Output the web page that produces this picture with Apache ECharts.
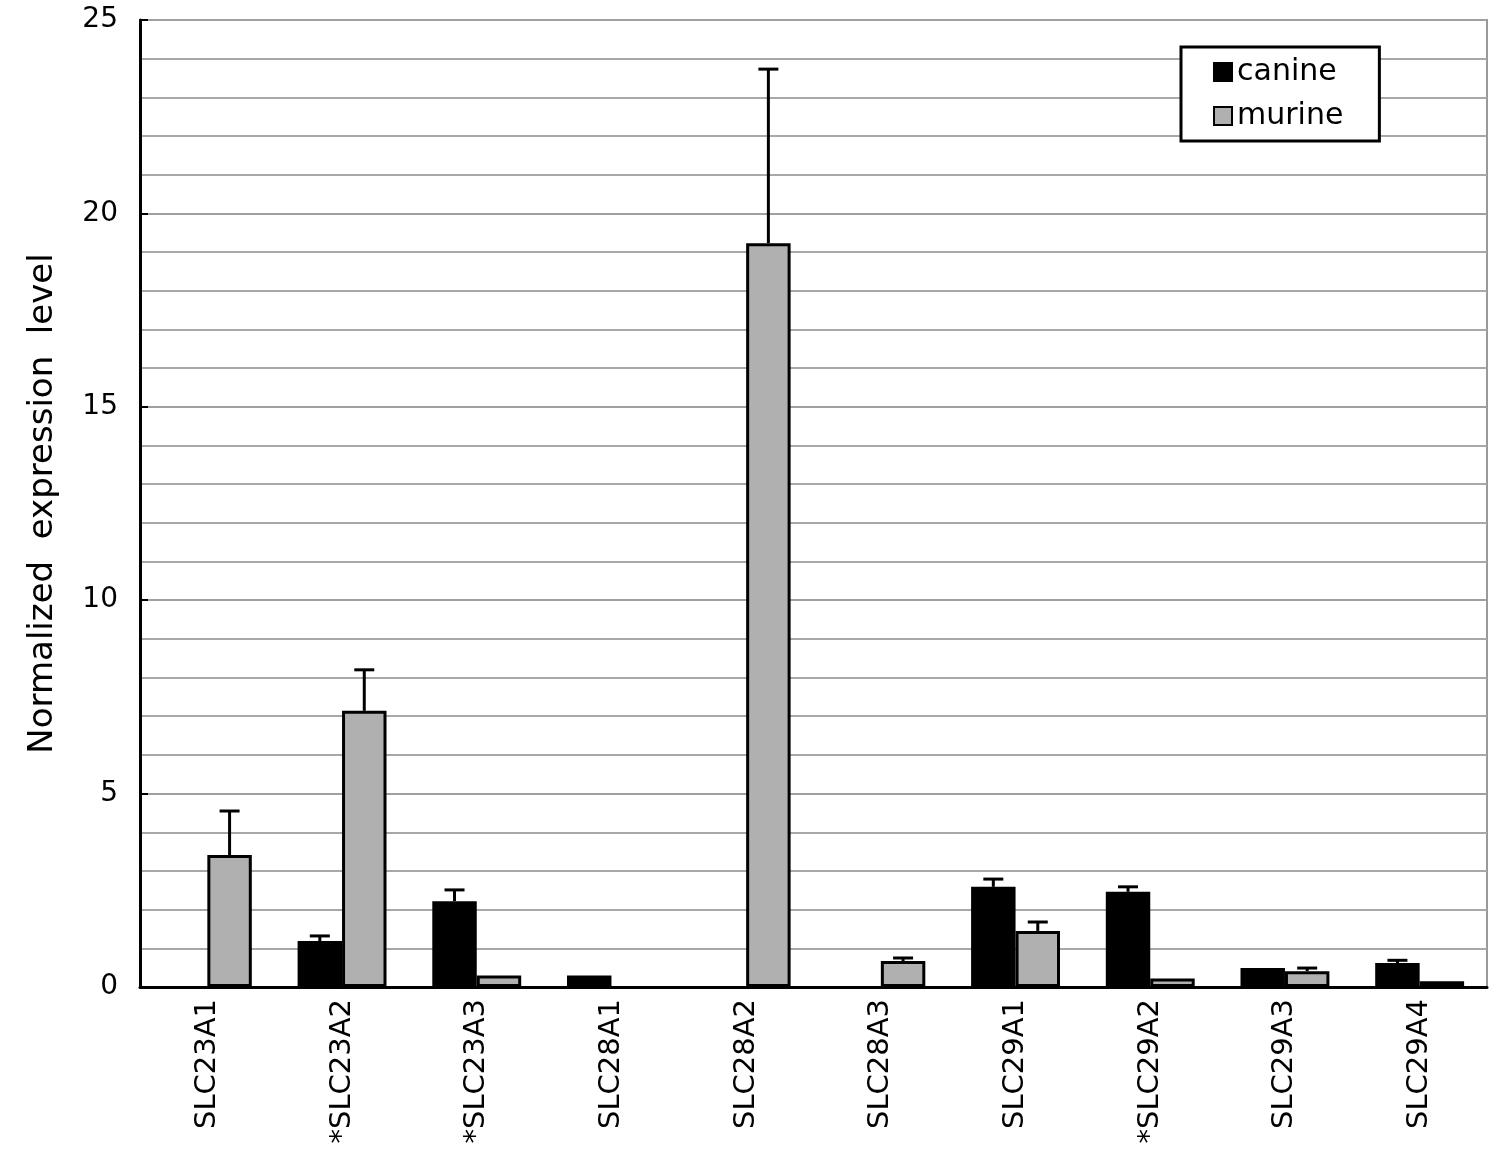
<!DOCTYPE html>
<html>
<head>
<meta charset="utf-8">
<script src="https://cdn.jsdelivr.net/npm/echarts@6/dist/echarts.min.js"></script>
<style>
	html, body { margin: 0; padding: 0; background: #fff; }
	#chart { width: 1500px; height: 1159px; }
</style>
</head>
<body>
<div id="chart"></div>
<script>
var genes = ["SLC23A1", "*SLC23A2", "*SLC23A3", "SLC28A1", "SLC28A2", "SLC28A3", "SLC29A1", "*SLC29A2", "SLC29A3", "SLC29A4"];
var canine = [0, 1.19, 2.22, 0.3, 0, 0, 2.59, 2.46, 0.49, 0.62];
var canineErr = [0, 0.13, 0.29, 0, 0, 0, 0.2, 0.13, 0, 0.07];
var murine = [3.41, 7.14, 0.3, 0, 19.23, 0.67, 1.45, 0.22, 0.41, 0.15];
var murineErr = [1.14, 1.06, 0, 0, 4.5, 0.08, 0.23, 0, 0.08, 0];
var yTicks = [0, 5, 10, 15, 20, 25];

var font = "DejaVu Sans";
var gapPct = 34;

// zero bars are not drawn in the original (no flat outline)
var barData = function (vals) {
	return vals.map(function (v) { return v === 0 ? "-" : v; });
};

// error bar drawing, side = -1 for canine, 1 for murine
var errItem = function (side) {
	return function (params, api) {
		var idx = api.value(0);
		var val = api.value(1);
		var hi = val + api.value(2);
		var band = api.size([1, 0])[0];
		var off = side * band * (1 - gapPct / 100) / 4;
		var p0 = api.coord([idx, val]);
		var p1 = api.coord([idx, hi]);
		var x = p0[0] + off;
		var st = { stroke: "#000", lineWidth: 3 };
		return {
			type: "group",
			children: [
				{ type: "line", shape: { x1: x, y1: p0[1], x2: x, y2: p1[1] }, style: st },
				{ type: "line", shape: { x1: x - 10, y1: p1[1], x2: x + 10, y2: p1[1] }, style: st }
			]
		};
	};
};

var errData = function (vals, errs) {
	var out = [];
	for (var i = 0; i < vals.length; i++) {
		if (errs[i] > 0) out.push([i, vals[i], errs[i]]);
	}
	return out;
};

var chart = echarts.init(document.getElementById("chart"));
chart.setOption({
	animation: false,
	textStyle: { fontFamily: font },
	grid: {
		left: 140, right: 13, top: 20, bottom: 172,
		show: true, borderColor: "#999", borderWidth: 2
	},
	legend: {
		data: ["canine", "murine"],
		orient: "vertical",
		left: 1181, top: 47,
		padding: [10, 36, 10, 32],
		itemGap: 14,
		itemWidth: 18, itemHeight: 18,
		icon: "rect",
		itemStyle: { borderWidth: 2, borderColor: "#000" },
		borderColor: "#000", borderWidth: 3,
		backgroundColor: "#fff",
		textStyle: { fontSize: 30, color: "#000", fontFamily: font }
	},
	xAxis: {
		type: "category",
		data: genes,
		axisLine: { lineStyle: { color: "#000", width: 3 } },
		axisTick: { inside: true, length: 8, lineStyle: { color: "#000", width: 2 } },
		axisLabel: { rotate: 90, fontSize: 29, color: "#000", margin: 12, interval: 0 }
	},
	yAxis: {
		type: "value",
		min: 0, max: 25, interval: 5,
		name: "Normalized  expression  level",
		nameLocation: "middle",
		nameGap: 80,
		nameTextStyle: { fontSize: 34, color: "#000", fontFamily: font },
		axisLine: { show: true, lineStyle: { color: "#000", width: 3 } },
		axisTick: { show: true, inside: true, length: 8, lineStyle: { color: "#000", width: 2 } },
		axisLabel: {
			fontSize: 28, color: "#000", margin: 22,
			formatter: function (v) { return yTicks.indexOf(v) >= 0 ? String(v) : ""; }
		},
		splitLine: { lineStyle: { color: "#a0a0a0", width: 2 } },
		minorTick: { show: false, splitNumber: 5 },
		minorSplitLine: { show: true, lineStyle: { color: "#a8a8a8", width: 2 } }
	},
	series: [
		{
			name: "canine", type: "bar", data: barData(canine),
			barGap: "0%", barCategoryGap: gapPct + "%",
			itemStyle: { color: "#000", borderColor: "#000", borderWidth: 3 }
		},
		{
			name: "murine", type: "bar", data: barData(murine),
			barGap: "0%", barCategoryGap: gapPct + "%",
			itemStyle: { color: "#b0b0b0", borderColor: "#000", borderWidth: 3 }
		},
		{
			type: "custom", renderItem: errItem(-1), data: errData(canine, canineErr),
			encode: { x: 0, y: [1, 2] }, z: 3, silent: true
		},
		{
			type: "custom", renderItem: errItem(1), data: errData(murine, murineErr),
			encode: { x: 0, y: [1, 2] }, z: 3, silent: true
		}
	]
});
</script>
</body>
</html>
